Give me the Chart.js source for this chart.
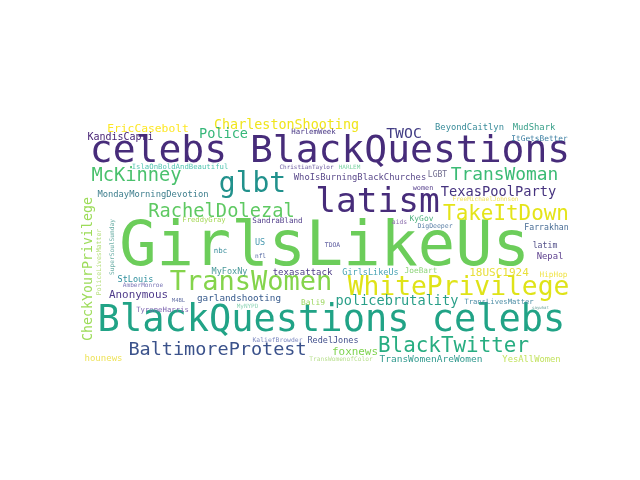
<!DOCTYPE html>
<html>
<head>
<meta charset="utf-8">
<script src="https://cdn.jsdelivr.net/npm/chart.js@4.4.0/dist/chart.umd.min.js"></script>
<style>
  html, body { margin: 0; padding: 0; background: #ffffff; }
  #cloud { display: block; }
</style>
</head>
<body>
<canvas id="cloud" width="640" height="480"></canvas>
<script>
// hashtags in the cloud
let words = [
  'GirlsLikeUs', 'celebs BlackQuestions', 'BlackQuestions celebs', 'latism', 'glbt',
  'TransWomen', 'WhitePrivilege', 'TakeItDown', 'BlackTwitter', 'RachelDolezal',
  'BaltimoreProtest', 'McKinney', 'TransWoman', 'CharlestonShooting', 'TWOC',
  'Police', 'TexasPoolParty', 'policebrutality', 'CheckYourPrivilege', 'EricCasebolt',
  'Anonymous', '18USC1924', 'foxnews', 'KandisCapri', 'IslaOnBoldAndBeautiful',
  'MondayMorningDevotion', 'HarlemWeek', 'ChristianTaylor', 'HARLEM', 'WhoIsBurningBlackChurches',
  'BeyondCaitlyn', 'MudShark', 'ItGetsBetter', 'LGBT', 'women',
  'FreeMichaelJohnson', 'PoliceLivesMatter', 'SuperSoulSunday', 'FreddyGray', 'nbc',
  'MyFoxNy', 'StLouis', 'AmberMonroe', 'TyroneHarris', 'M4BL',
  'garlandshooting', 'MyNYPD', 'Bali9', 'TransLivesMatter', 'saywhat',
  'KaliefBrowder', 'RedelJones', 'TransWomenofColor', 'TransWomenAreWomen', 'YesAllWomen',
  'hounews', 'SandraBland', 'aids', 'US', 'nfl',
  'TDOA', 'texasattack', 'GirlsLikeUs', 'JoeBart', 'KyGov',
  'DigDeeper', 'Farrakhan', 'latim', 'Nepal', 'HipHop'
];

// word weight (font size in cloud units)
let weights = [
  62, 38, 37, 34.5, 28,
  27, 26.3, 20.9, 20.9, 18.7,
  18.5, 18.7, 17.9, 13.4, 14.8,
  13.6, 13.7, 13.6, 13.3, 11.3,
  10.9, 11, 10.9, 10, 7.3,
  8.8, 7.4, 6, 6, 8.8,
  8.8, 8.9, 7.8, 8, 6.9,
  6.1, 6.5, 6.2, 7.2, 7.4,
  8.5, 8.5, 6.1, 7.3, 5.6,
  9.3, 6, 7.9, 7.2, 4,
  6.4, 8.5, 6.2, 9.5, 8.8,
  9, 7.6, 6.4, 8.5, 6.2,
  6.4, 9, 8.5, 7.8, 7.9,
  6.5, 8.2, 8.2, 8.9, 7.7
];

// where each word sits in the cloud (centre along the text, baseline)
let wordX = [
  244.5, 250, 251.5, 297.5, 172.5,
  171, 378.5, 426, 373.5, 141.5,
  137.5, 56.5, 424.5, 206.5, 324,
  143.5, 418.5, 317, 12, 68,
  58.5, 419, 275, 40.5, 100,
  73, 233.5, 226.5, 269.5, 280,
  389.5, 454, 459.5, 357.5, 343,
  405.5, 21, 34, 124, 140.5,
  149.5, 55.5, 63, 82.5, 98.5,
  159, 167.5, 233, 419, 460.5,
  197.5, 253, 261, 351, 451.5,
  23.5, 197.5, 319.5, 180, 180.5,
  252.5, 222.5, 290.5, 341, 341.5,
  355, 466.5, 465, 470, 473.5
];
let wordY = [
  147, 44, 213, 94, 74,
  172, 177, 102, 234, 99,
  237, 63, 62, 11, 20,
  20, 78, 187, 151, 14,
  180, 158, 237, 22, 51,
  79, 16, 51, 51, 62,
  12, 12, 23, 59, 72,
  83, 144, 129, 104, 135,
  156, 164, 169, 194, 184,
  183, 190, 187, 186, 191,
  224, 225, 243, 244, 244,
  243, 105, 106, 127, 140,
  129, 157, 157, 155, 103,
  110, 112, 130, 141, 159
];

// words set vertically
let vertical = ['CheckYourPrivilege', 'PoliceLivesMatter', 'SuperSoulSunday'];

// viridis colours
let wordColors = [
  '#6ccd5a', '#472c7a', '#21a386', '#472c7a', '#21918c',
  '#84d44b', '#dfe318', '#e4e419', '#27ad81', '#5ec962',
  '#3b528b', '#4ac16d', '#3bbb75', '#f0e51c', '#433e85',
  '#35b779', '#46337f', '#2a9f89', '#9ddc5a', '#fde725',
  '#4e3a8a', '#e8df3a', '#7dd34e', '#482475', '#52c5b0',
  '#3f7f8e', '#4b3a86', '#6b5b9e', '#7fd3a4', '#5b4a8b',
  '#3a8c9a', '#3aa08a', '#3b7ea1', '#6f6b8e', '#5c4690',
  '#f3e55f', '#b5de7a', '#6fb0a8', '#a6d857', '#3b8e9c',
  '#4b9a9a', '#2f8f9d', '#7d79b8', '#7e66b0', '#6a76a8',
  '#375a8c', '#8fd4b6', '#9bd55c', '#4d8ea6', '#6aa39e',
  '#7e8ac0', '#42508c', '#b8df8d', '#309a8e', '#c3e35f',
  '#eee35a', '#54418c', '#8d6fae', '#4a9ab0', '#5265a1',
  '#5f5ea0', '#4c3b85', '#48a3b4', '#8ed57a', '#4fb07e',
  '#5d81a8', '#4a6e96', '#53508a', '#5c3f8d', '#f0e44a'
];

// the cloud is 496 x 248 units
let cloudW = 496;
let cloudH = 248;

// plugin that writes each word at its point
const wordPlugin = {
  id: 'wordPlugin',
  afterDatasetsDraw(chart) {
    const ctx = chart.ctx;
    const xs = chart.scales.x;
    const unit = (xs.getPixelForValue(cloudW) - xs.getPixelForValue(0)) / cloudW;
    const meta = chart.getDatasetMeta(0);
    ctx.save();
    meta.data.forEach((pt, i) => {
      ctx.save();
      ctx.translate(pt.x, pt.y);
      if (vertical.includes(words[i])) {
        ctx.rotate(-Math.PI / 2);
      }
      ctx.font = (weights[i] * unit) + 'px "DejaVu Sans Mono", monospace';
      ctx.fillStyle = wordColors[i];
      ctx.textAlign = 'center';
      ctx.textBaseline = 'alphabetic';
      ctx.fillText(words[i], 0, 0);
      ctx.restore();
    });
    ctx.restore();
  }
};

let points = wordX.map((x, i) => ({ x: x, y: wordY[i] }));

let cloudChart = new Chart(document.getElementById('cloud').getContext('2d'), {
  type: 'scatter',
  data: {
    datasets: [{
      data: points,
      pointRadius: 0,
      pointHoverRadius: 0
    }]
  },
  options: {
    responsive: false,
    animation: false,
    events: [],
    layout: { padding: { left: 80, right: 64, top: 118, bottom: 114 } },
    plugins: { legend: { display: false }, tooltip: { enabled: false } },
    scales: {
      x: { type: 'linear', min: 0, max: cloudW, display: false },
      y: { type: 'linear', min: 0, max: cloudH, reverse: true, display: false }
    }
  },
  plugins: [wordPlugin]
});
</script>
</body>
</html>
